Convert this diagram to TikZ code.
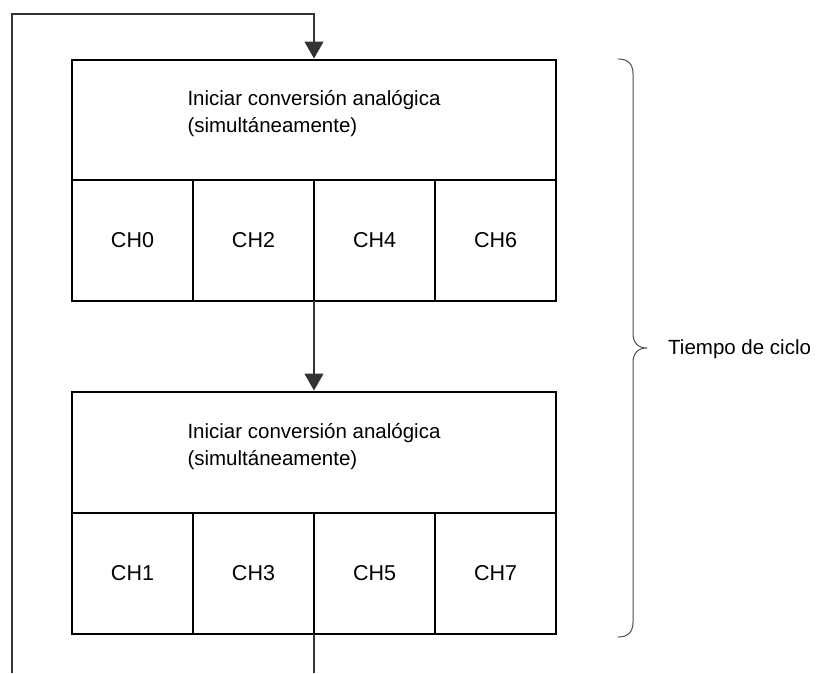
\documentclass[tikz,border=0pt]{standalone}
\usepackage{fontspec}
\setmainfont{Liberation Sans}
\usetikzlibrary{arrows.meta,positioning,calc}
\tikzset{
  hdr/.style ={rectangle, draw=black, line width=2pt, minimum width=484pt,
               minimum height=120pt, align=left, outer sep=0pt, inner sep=0pt},
  cell/.style={rectangle, draw=black, line width=2pt, minimum width=121pt,
               minimum height=121pt, outer sep=0pt, inner sep=0pt,
               font=\fontsize{21.5}{27}\selectfont},
  ln/.style  ={line width=1.3pt, draw=black!80},
  ar/.style  ={ln, -{Triangle[length=17pt,width=19pt]}, shorten >=1.5pt},
  brc/.style ={line width=1pt, draw=black!70},
}

\begin{document}
\begin{tikzpicture}[x=1pt, y=-1pt, font=\fontsize{20.5}{27}\selectfont]
\useasboundingbox (0,0) rectangle (818,673);
% first group of channels
\node[hdr] (h1) at (314,120) {Iniciar conversión analógica\\(simultáneamente)\\[-10pt]};
\node[cell, anchor=north west] (a0) at (h1.south west) {CH0};
\node[cell, right=0pt of a0] (a2) {CH2};
\node[cell, right=0pt of a2] (a4) {CH4};
\node[cell, right=0pt of a4] (a6) {CH6};
% second group of channels
\node[hdr, minimum height=121pt] (h2) at (314,452.5) {Iniciar conversión analógica\\(simultáneamente)\\[-10pt]};
\node[cell, anchor=north west] (b1) at (h2.south west) {CH1};
\node[cell, right=0pt of b1] (b3) {CH3};
\node[cell, right=0pt of b3] (b5) {CH5};
\node[cell, right=0pt of b5] (b7) {CH7};

% loop
\coordinate (lp0) at (12,673);
\coordinate (lp1) at (314,14);
\coordinate (lp2) at (314,673);
\draw[ar] (lp0) |- (lp1) -- (h1.north);
\draw[ar] (a2.south east) -- (h2.north);
\draw[ln] (b3.south east) -- (lp2);

% cycle time brace
\coordinate (bt) at (618,59);
\draw[brc] (bt) .. controls ++(10,0) and ++(0,-10) .. ++(15,15)
  -- ++(0,259) .. controls ++(0,10) and ++(-9,0) .. ++(14,15)
  .. controls ++(-9,0) and ++(0,-10) .. ++(-14,15)
  -- ++(0,259) .. controls ++(0,10) and ++(10,0) .. ++(-15,15);
\node[anchor=west, inner sep=0pt] (tc) at (668,349) {Tiempo de ciclo};
\end{tikzpicture}
\end{document}
